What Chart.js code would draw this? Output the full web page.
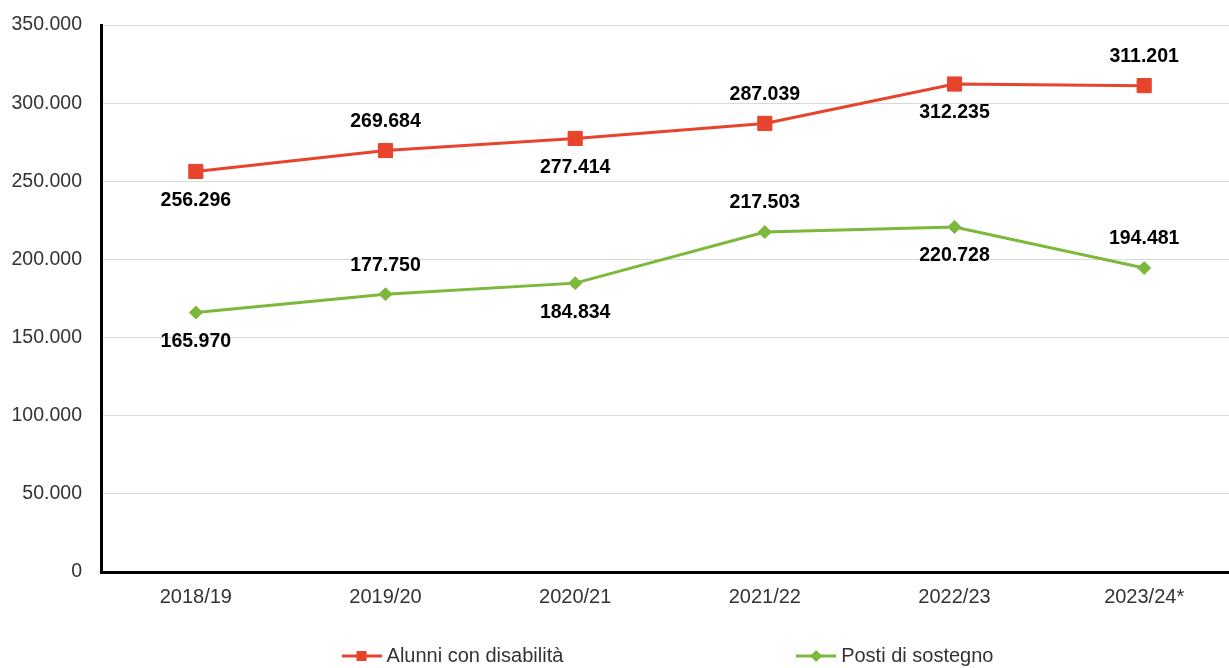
<!DOCTYPE html>
<html>
<head>
<meta charset="utf-8">
<script src="https://cdn.jsdelivr.net/npm/chart.js"></script>
<style>
  html, body { margin: 0; padding: 0; background: #fff; overflow: hidden; }
  #chart { display: block; }
</style>
</head>
<body>
<canvas id="chart" width="1250" height="676"></canvas>
<script>
// Data
const years = ['2018/19', '2019/20', '2020/21', '2021/22', '2022/23', '2023/24*'];
const alunni = [256296, 269684, 277414, 287039, 312235, 311201];
const posti = [165970, 177750, 184834, 217503, 220728, 194481];
const seriesNames = ['Alunni con disabilità', 'Posti di sostegno'];

const RED = '#E8432C';
const GREEN = '#7CB83A';
const FONT = '"Liberation Sans", Arial, sans-serif';

// 256296 -> "256.296"
function fmt(v) {
    return String(v).replace(/\B(?=(\d{3})+(?!\d))/g, '.');
}

// small line + marker picture used as legend symbol
function legendMarker(color, shape) {
    const c = document.createElement('canvas');
    c.width = 40;
    c.height = 14;
    const g = c.getContext('2d');
    g.strokeStyle = color;
    g.lineWidth = 3;
    g.beginPath();
    g.moveTo(0, 7);
    g.lineTo(40, 7);
    g.stroke();
    g.fillStyle = color;
    g.beginPath();
    if (shape === 'rect') {
        g.rect(15, 2, 10, 10);
    } else {
        g.moveTo(20, 1);
        g.lineTo(26, 7);
        g.lineTo(20, 13);
        g.lineTo(14, 7);
        g.closePath();
    }
    g.fill();
    return c;
}
const markers = [legendMarker(RED, 'rect'), legendMarker(GREEN, 'diamond')];

// value labels, alternating below / above the points
const valueLabels = {
    id: 'valueLabels',
    afterDatasetsDraw(chart) {
        const ctx = chart.ctx;
        ctx.save();
        ctx.font = 'bold 19.5px ' + FONT;
        ctx.fillStyle = '#000';
        ctx.textAlign = 'center';
        ctx.textBaseline = 'middle';
        chart.data.datasets.forEach((ds, d) => {
            chart.getDatasetMeta(d).data.forEach((pt, i) => {
                const dy = i % 2 === 0 ? 29 : -29;
                ctx.fillText(fmt(ds.data[i]), pt.x, pt.y + dy);
            });
        });
        ctx.restore();
    }
};

new Chart(document.getElementById('chart'), {
    type: 'line',
    data: {
        labels: years,
        datasets: [
            {
                label: seriesNames[0],
                data: alunni,
                borderColor: RED,
                backgroundColor: RED,
                borderWidth: 3,
                pointStyle: 'rect',
                pointRadius: 10,
                pointHoverRadius: 10,
                pointBorderWidth: 1,
                tension: 0
            },
            {
                label: seriesNames[1],
                data: posti,
                borderColor: GREEN,
                backgroundColor: GREEN,
                borderWidth: 3,
                pointStyle: 'rectRot',
                pointRadius: 6.5,
                pointHoverRadius: 6.5,
                pointBorderWidth: 1,
                tension: 0
            }
        ]
    },
    options: {
        responsive: false,
        animation: false,
        layout: { padding: { top: 25, right: 0, left: 0, bottom: 0 } },
        scales: {
            x: {
                offset: true,
                grid: { display: false },
                border: { display: true, color: '#000', width: 3 },
                ticks: { color: '#333', padding: 5, font: { family: FONT, size: 20 } },
                afterFit(scale) {
                    scale.height = 64;
                    scale.paddingLeft = 0;
                    scale.paddingRight = 0;
                }
            },
            y: {
                min: 0,
                max: 350000,
                grid: { color: '#d9d9d9', lineWidth: 1, drawTicks: false },
                border: { display: true, color: '#000', width: 3 },
                ticks: {
                    stepSize: 50000,
                    color: '#333',
                    padding: 19,
                    font: { family: FONT, size: 19.5 },
                    callback: v => fmt(v)
                },
                afterFit(scale) {
                    scale.width = 101;
                    scale.paddingTop = 0;
                    scale.paddingBottom = 0;
                }
            }
        },
        plugins: {
            tooltip: { enabled: false },
            legend: {
                position: 'bottom',
                fullSize: false,
                labels: {
                    color: '#333',
                    font: { family: FONT, size: 20 },
                    usePointStyle: true,
                    pointStyleWidth: 30,
                    padding: 10,
                    generateLabels(chart) {
                        const items = Chart.defaults.plugins.legend.labels.generateLabels(chart);
                        items.forEach((it, i) => {
                            it.pointStyle = markers[i];
                            if (i === 0) it.text += '\u00A0'.repeat(41);
                        });
                        return items;
                    }
                }
            }
        }
    },
    plugins: [valueLabels]
});
</script>
</body>
</html>
